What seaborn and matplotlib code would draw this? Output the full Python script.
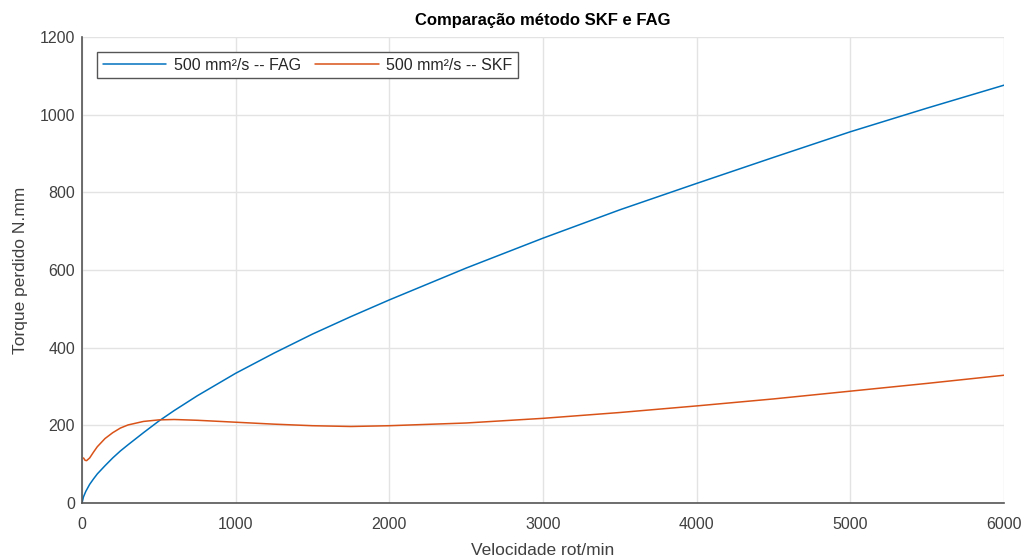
import matplotlib
matplotlib.use("Agg")
import matplotlib.pyplot as plt
import seaborn as sns
import pandas as pd

# Rotational speed (rot/min) and lost torque (N.mm) for both methods
speed_fag = [0, 10, 25, 50, 75, 100, 150, 200, 250, 300, 400, 500, 600, 750, 1000, 1250,
             1500, 1750, 2000, 2500, 3000, 3500, 4000, 4500, 5000, 5500, 6000]
torque_fag = [0, 16, 30, 48, 62, 75, 96, 116, 134, 150, 181, 211, 238, 276, 334, 386,
              435, 480, 523, 605, 682, 755, 823, 890, 956, 1017, 1076]

speed_skf = [10, 20, 30, 50, 75, 100, 150, 200, 250, 300, 400, 500, 600, 750, 1000,
             1250, 1500, 1750, 2000, 2500, 3000, 3500, 4000, 4500, 5000, 5500, 6000]
torque_skf = [116, 110, 109, 116, 131, 145, 166, 181, 193, 201, 210, 214, 215, 213, 208,
              203, 199, 197, 199, 206, 218, 233, 250, 268, 288, 308, 329]

label_fag = "500 mm²/s -- FAG"
label_skf = "500 mm²/s -- SKF"

sns.set_theme(style="whitegrid")
plt.rcParams["font.family"] = ["Liberation Sans", "DejaVu Sans"]

text_color = "#404040"
axis_color = "#555555"

fig = plt.figure(figsize=(10.26, 5.59), dpi=100)
ax = fig.add_axes([0.0799, 0.1002, 0.8987, 0.8336])

df_fag = pd.DataFrame({"speed": speed_fag, "torque": torque_fag})
df_skf = pd.DataFrame({"speed": speed_skf, "torque": torque_skf})

sns.lineplot(data=df_fag, x="speed", y="torque", ax=ax, color="#0072BD",
             linewidth=1.1, label=label_fag, estimator=None, sort=False)
sns.lineplot(data=df_skf, x="speed", y="torque", ax=ax, color="#D95319",
             linewidth=1.1, label=label_skf, estimator=None, sort=False)

ax.set_xlim(0, 6000)
ax.set_ylim(0, 1200)
ax.set_xticks(range(0, 6001, 1000))
ax.set_yticks(range(0, 1201, 200))

ax.set_facecolor("white")
ax.grid(True, color="#e3e3e3", linewidth=1.0)
ax.set_axisbelow(True)

for side in ("top", "right"):
    ax.spines[side].set_visible(False)
for side in ("left", "bottom"):
    ax.spines[side].set_visible(True)
    ax.spines[side].set_color(axis_color)
    ax.spines[side].set_linewidth(1.2)

ax.tick_params(axis="both", direction="in", length=5, width=1.0,
               color=axis_color, labelcolor=text_color, labelsize=11.5)
ax.tick_params(axis="x", pad=10)
ax.tick_params(axis="y", pad=5)

ax.set_xlabel("Velocidade rot/min", fontsize=12.5, color=text_color, labelpad=8)
ax.set_ylabel("Torque perdido N.mm", fontsize=12.5, color=text_color, labelpad=8)
ax.set_title("Comparação método SKF e FAG", fontsize=12, fontweight="bold",
             color="black", pad=9)

leg = ax.legend(loc="upper left", bbox_to_anchor=(0.0163, 0.968), ncol=2,
                frameon=True, fancybox=False, fontsize=11.5, handlelength=4.0,
                columnspacing=0.9, handletextpad=0.45, borderpad=0.35,
                borderaxespad=0.0)
leg.get_frame().set_edgecolor(axis_color)
leg.get_frame().set_linewidth(1.0)
leg.get_frame().set_alpha(1.0)
for t in leg.get_texts():
    t.set_color("#262626")

fig.savefig("out.png", dpi=100, facecolor="white")
